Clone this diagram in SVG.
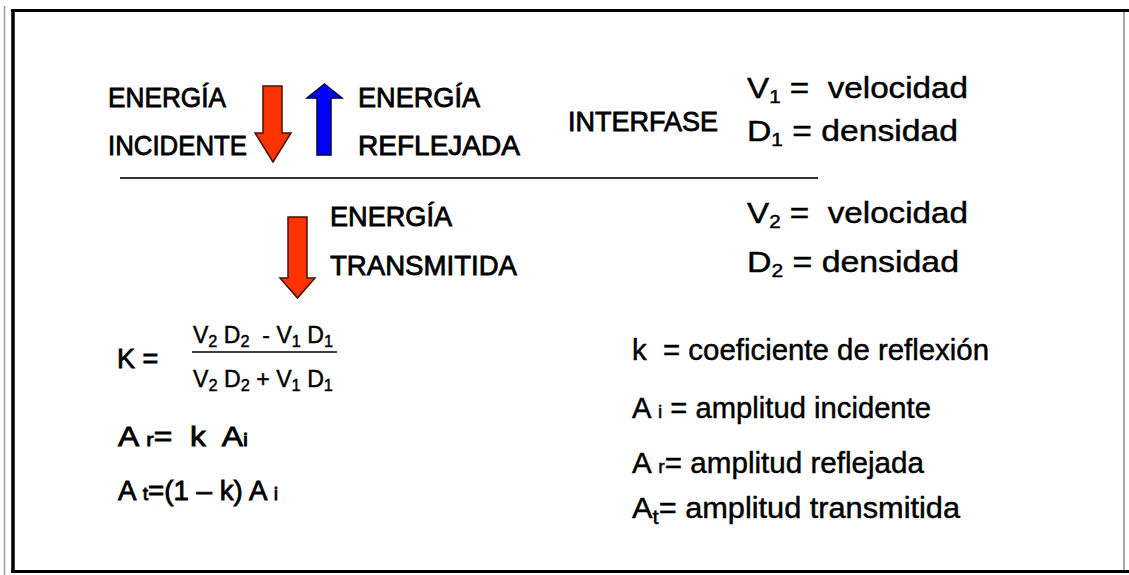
<svg xmlns="http://www.w3.org/2000/svg" width="1129" height="575" viewBox="0 0 1129 575">
<style>
.t{font-family:"Liberation Sans",Arial,sans-serif;fill:#000;stroke:#000;stroke-width:0.45px;white-space:pre;}
.c{font-size:27px;stroke-width:0.8px;}
.r{font-size:29px;}
.red{fill:#FF3300;stroke:#4a1000;stroke-width:1.5;}
.blue{fill:#0000FF;stroke:#000033;stroke-width:1.5;}
</style>
<rect x="0" y="0" width="1129" height="575" fill="#fff"/>
<g id="frame">
<line x1="4.5" y1="6" x2="4.5" y2="575" stroke="#999" stroke-width="1.5"/>
<line x1="11" y1="10.5" x2="1129" y2="10.5" stroke="#000" stroke-width="3"/>
<line x1="13" y1="9" x2="13" y2="573" stroke="#000" stroke-width="3.5"/>
<line x1="11" y1="571.5" x2="1129" y2="571.5" stroke="#000" stroke-width="3"/>
<line x1="1124" y1="12" x2="1124" y2="570" stroke="#888" stroke-width="1.5"/>
</g>
<g id="interface-line">
<line x1="120" y1="178" x2="818" y2="178" stroke="#333" stroke-width="2"/>
</g>
<g id="arrows">
<polygon class="red" points="263,86 282,86 282,133 291,133 273,162 255,133 263,133"/>
<polygon class="blue" points="324.5,84 342,98 331,98 331,155 317,155 317,98 307,98"/>
<polygon class="red" points="288,217 307,217 307,278 315,278 297.5,298 280,278 288,278"/>
</g>
<g id="incident">
<text class="t c" x="108" y="107" textLength="118" lengthAdjust="spacingAndGlyphs">ENERGÍA</text>
<text class="t c" x="108" y="155" textLength="139" lengthAdjust="spacingAndGlyphs">INCIDENTE</text>
</g>
<g id="reflected">
<text class="t c" x="358" y="107" textLength="122" lengthAdjust="spacingAndGlyphs">ENERGÍA</text>
<text class="t c" x="358" y="155" textLength="162" lengthAdjust="spacingAndGlyphs">REFLEJADA</text>
</g>
<g id="interfase">
<text class="t c" x="568" y="131" textLength="150" lengthAdjust="spacingAndGlyphs">INTERFASE</text>
</g>
<g id="medium1">
<text class="t r" x="747" y="98" textLength="221" lengthAdjust="spacingAndGlyphs">V<tspan font-size="18" dy="5">1</tspan><tspan dy="-5"> =  velocidad</tspan></text>
<text class="t r" x="747" y="141" textLength="211" lengthAdjust="spacingAndGlyphs">D<tspan font-size="18" dy="5">1</tspan><tspan dy="-5"> = densidad</tspan></text>
</g>
<g id="transmitted">
<text class="t c" x="330" y="226" textLength="122" lengthAdjust="spacingAndGlyphs">ENERGÍA</text>
<text class="t c" x="330" y="275" textLength="187" lengthAdjust="spacingAndGlyphs">TRANSMITIDA</text>
</g>
<g id="medium2">
<text class="t r" x="747" y="223" textLength="221" lengthAdjust="spacingAndGlyphs">V<tspan font-size="18" dy="5">2</tspan><tspan dy="-5"> =  velocidad</tspan></text>
<text class="t r" x="747" y="272" textLength="212" lengthAdjust="spacingAndGlyphs">D<tspan font-size="18" dy="5">2</tspan><tspan dy="-5"> = densidad</tspan></text>
</g>
<g id="formula-k">
<text class="t c" font-size="28" x="117" y="368">K =</text>
<text class="t" font-size="24" x="193" y="343" textLength="140" lengthAdjust="spacingAndGlyphs">V<tspan font-size="17" dy="4">2</tspan><tspan dy="-4"> D</tspan><tspan font-size="17" dy="4">2</tspan><tspan dy="-4">  - V</tspan><tspan font-size="17" dy="4">1</tspan><tspan dy="-4"> D</tspan><tspan font-size="17" dy="4">1</tspan></text>
<line x1="192" y1="352" x2="337" y2="352" stroke="#000" stroke-width="1.5"/>
<text class="t" font-size="24" x="193" y="387" textLength="140" lengthAdjust="spacingAndGlyphs">V<tspan font-size="17" dy="4">2</tspan><tspan dy="-4"> D</tspan><tspan font-size="17" dy="4">2</tspan><tspan dy="-4"> + V</tspan><tspan font-size="17" dy="4">1</tspan><tspan dy="-4"> D</tspan><tspan font-size="17" dy="4">1</tspan></text>
</g>
<g id="formula-ar">
<text class="t c" x="118" y="446" textLength="130" lengthAdjust="spacingAndGlyphs">A <tspan font-size="19">r</tspan>=  k  A<tspan font-size="19">i</tspan></text>
</g>
<g id="formula-at">
<text class="t c" x="118" y="500" textLength="160" lengthAdjust="spacingAndGlyphs">A <tspan font-size="19">t</tspan>=(1 – k) A <tspan font-size="19">i</tspan></text>
</g>
<g id="legend">
<text class="t r" x="632" y="360" textLength="357" lengthAdjust="spacingAndGlyphs">k  = coeficiente de reflexión</text>
<text class="t r" x="632" y="418" textLength="299" lengthAdjust="spacingAndGlyphs">A <tspan font-size="19">i</tspan> = amplitud incidente</text>
<text class="t r" x="632" y="473" textLength="292" lengthAdjust="spacingAndGlyphs">A <tspan font-size="19">r</tspan>= amplitud reflejada</text>
<text class="t r" x="632" y="518" textLength="328" lengthAdjust="spacingAndGlyphs">A<tspan font-size="21" dy="6">t</tspan><tspan dy="-6">= amplitud transmitida</tspan></text>
</g>
</svg>
